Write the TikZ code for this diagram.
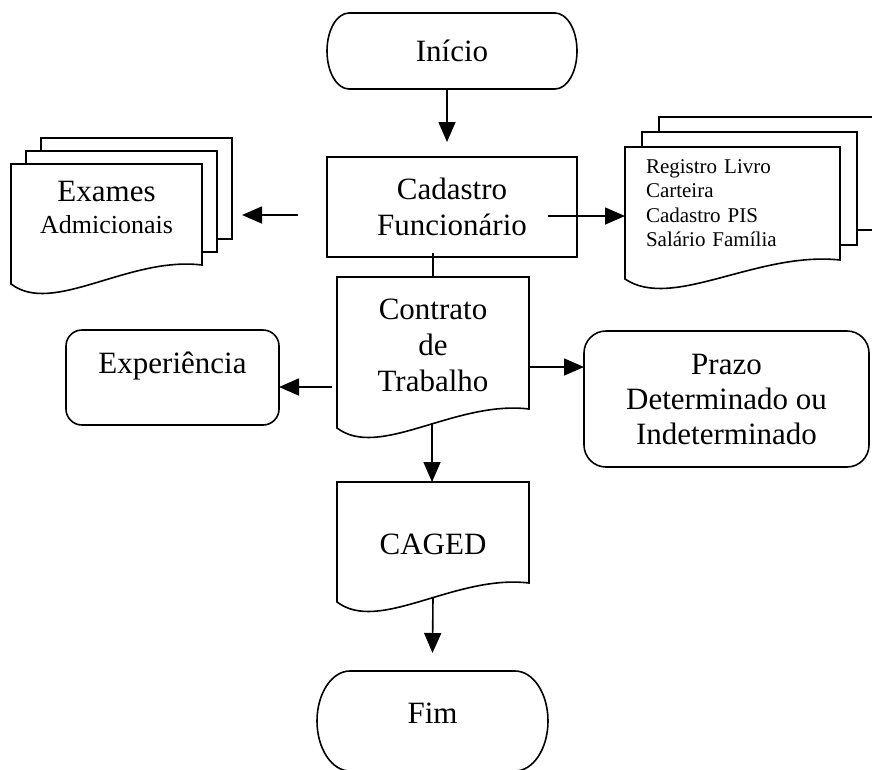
\documentclass[tikz,border=0pt]{standalone}
\usepackage{fontspec}
\setmainfont{Liberation Serif}
\usetikzlibrary{arrows.meta,calc,backgrounds}

\tikzset{sheet/.style={draw,fill=white,line width=1.6pt}}

% document sheet with wavy bottom: node, extra depth of the wave
\newcommand{\docoutline}[2]{%
  \path[sheet] (#1.north west) -- (#1.north east)
    -- ($(#1.south east)+(0,{#2-28})$)
    .. controls ($(#1.south)!0.23!(#1.south east)+(0,{#2-37})$)
    and ($(#1.south)!0.56!(#1.south west)+(0,{#2+23})$)
    .. ($(#1.south west)+(0,{#2-9})$) -- cycle;}
% the two sheets behind a stacked document
\newcommand{\pagestack}[4]{%
  \foreach \k in {2,1}
    \path[sheet] ($(#1.north west)+(\k*#3,{-\k*#4})$)
      rectangle ($(#1.south east)+(\k*#3,{#2-28-\k*#4})$);}
% start / end terminal
\newcommand{\terminaloutline}[3]{%
  \draw ($(#1.north west)+(#2,0)$) -- ($(#1.north east)+(-#2,0)$)
    arc[start angle=90,end angle=-90,x radius=#2pt,y radius=#3pt]
    -- ($(#1.south west)+(#2,0)$)
    arc[start angle=270,end angle=90,x radius=#2pt,y radius=#3pt] -- cycle;}

\begin{document}
\begin{tikzpicture}[
  x=1pt,y=-1pt,
  line width=1.6pt,
  >={Triangle[length=20pt,width=17pt]},
  font=\fontsize{31}{36}\selectfont,
  every node/.style={inner sep=0pt,outer sep=0pt,align=center}
]
\useasboundingbox (0,0) rectangle (872,769);

\node[minimum width=250pt,minimum height=76pt] (inicio) at (452,51) {Início};
\node[draw,minimum width=250pt,minimum height=100pt] (cadastro) at (452,207) {Cadastro\\Funcionário};
\node[minimum width=191pt,minimum height=86pt] (exames) at (106.5,207)
  {Exames\\[-4pt]{\fontsize{26}{30}\selectfont Admicionais}};
\node[minimum width=215pt,minimum height=112pt,text width=173pt,align=left,
  font=\fontsize{21}{24.5}\selectfont] (registro) at (732.5,203)
  {Registro Livro\\Carteira\\Cadastro PIS\\Salário Família};
\node[minimum width=192pt,minimum height=136pt] (contrato) at (433,345) {Contrato\\de\\Trabalho};
\node[draw,rounded corners=16pt,minimum width=213pt,minimum height=95pt,
  text height=21pt,text depth=30pt] (experiencia) at (172.5,377.5) {Experiência};
\node[draw,rounded corners=22pt,minimum width=285pt,minimum height=136pt,
  font=\fontsize{31}{35}\selectfont] (prazo) at (726.5,399) {Prazo\\Determinado ou\\Indeterminado};
\node[minimum width=192pt,minimum height=124pt] (caged) at (433,544) {CAGED};
\node[minimum width=231pt,minimum height=100pt,text height=21pt,text depth=17pt] (fim) at (432.5,721) {Fim};

\begin{scope}[on background layer]
  \pagestack{exames}{43}{15}{13}
  \docoutline{exames}{43}
  \pagestack{registro}{29}{17}{15}
  \docoutline{registro}{29}
  \docoutline{contrato}{24}
  \docoutline{caged}{5}
\end{scope}
\terminaloutline{inicio}{22}{38}
\terminaloutline{fim}{33}{50}

\draw[->] ($(inicio.south)+(-5,0)$) -- ($(cadastro.north)+(-5,-15)$);
\draw[->] ($(cadastro.east)+(-29,9)$) -- ($(registro.west)+(0,13)$);
\draw[->] ($(cadastro.west)+(-29,8)$) -- ($(exames.east)+(40,8)$);
\draw ($(contrato.north)+(0,-24)$) -- (contrato.north);
\draw[->] ($(contrato.west)+(-5,42)$) -- ($(experiencia.east)+(0,9.5)$);
\draw[->] ($(contrato.east)+(0,22)$) -- ($(prazo.west)+(0,-32)$);
\draw[->] ($(contrato.south)+(-1,10)$) -- ($(caged.north)+(-1,0)$);
\draw[->] ($(caged.south)+(0,-9)$) -- ($(fim.north)+(0,-18)$);

\end{tikzpicture}
\end{document}
